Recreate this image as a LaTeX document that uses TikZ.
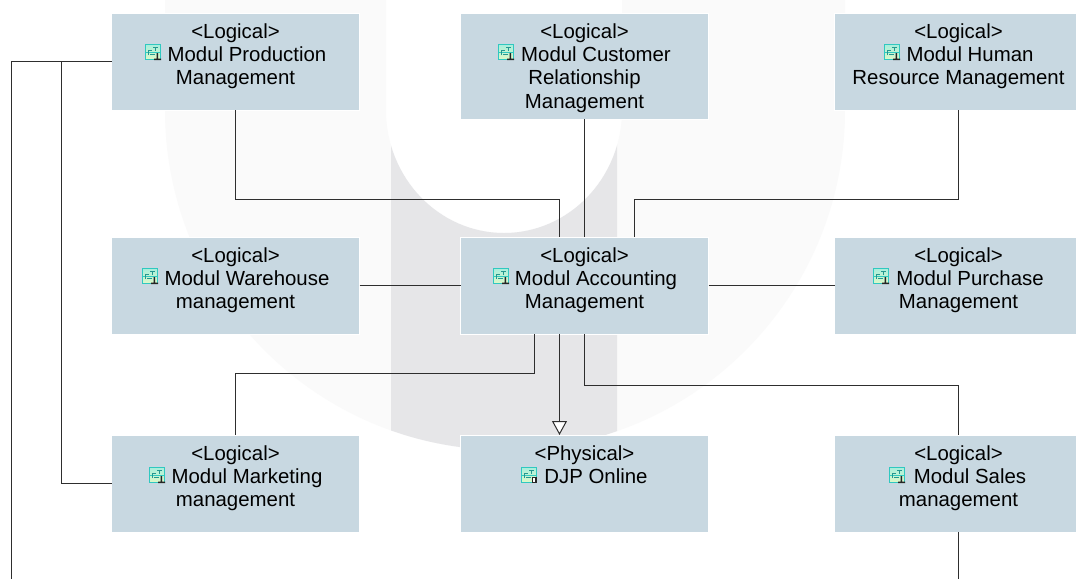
\documentclass[tikz,border=0pt]{standalone}
\usepackage{fontspec}
\setmainfont{Liberation Sans}
\usetikzlibrary{arrows.meta}
\definecolor{boxfill}{HTML}{C8D8E1}
\definecolor{wmlight}{HTML}{FAFAFA}
\definecolor{wmgray}{HTML}{E6E6E8}
\definecolor{wire}{HTML}{2E2E2E}
\definecolor{icoedge}{HTML}{30C8C0}
\definecolor{icotop}{HTML}{A8EEDC}
\definecolor{icolow}{HTML}{DDF9C8}
\newcommand{\boxtxt}[2]{\begin{minipage}[t][#1][t]{186pt}\fontsize{15.3}{17.6}\selectfont\centering\rule{0pt}{18.75pt}#2\end{minipage}}
\newcommand{\icosp}{\hspace*{17.25pt}}
\tikzset{
  modbox/.style={anchor=north west,fill=boxfill,draw=white,line width=0.3pt,inner sep=0pt,outer sep=0pt,text=black},
  wireline/.style={draw=wire,line width=0.75pt},
  icobase/.pic={
    \shade[top color=icotop,bottom color=icolow,draw=icoedge,line width=0.9pt] (0.5,0.5) rectangle (15.5,15.5);
    \draw[icoedge,line width=0.75pt] (0.5,8) -- (15.5,8);
    \draw[icoedge!75!black,line width=0.6pt] (3,11) -- (3,6) -- (7,6) (8,3.5) -- (13,3.5) (10,3.5) -- (10,6.5) (5,10.5) -- (10,10.5);
  },
  icolog/.pic={
    \pic {icobase};
    \fill[black!85] (11.5,9) rectangle (13,15.5) (9,14.5) rectangle (16,16);
  },
  icophy/.pic={
    \pic {icobase};
    \fill[black!85] (10.5,10) rectangle (16,16);
    \fill[white] (12.2,11.3) rectangle (14.4,14.6);
  },
}
\begin{document}
\begin{tikzpicture}[x=0.75pt,y=-0.75pt]
\path[use as bounding box,clip] (0,0) rectangle (1076,579);
\fill[white] (0,0) rectangle (1076,579);
% watermark
\fill[wmlight] (165,0) -- (165,110) arc[start angle=180,end angle=360,x radius=340,y radius=-340] -- (845,0) -- (622,0) -- (622,110)
  arc[start angle=360,end angle=180,x radius=118,y radius=-123] -- (386,0) -- cycle;
\begin{scope}
\clip (391,0) rectangle (617,579);
\fill[wmgray] (165,0) -- (165,110) arc[start angle=180,end angle=360,x radius=340,y radius=-340] -- (845,0) -- (622,0) -- (622,110)
  arc[start angle=360,end angle=180,x radius=118,y radius=-123] -- (386,0) -- cycle;
\end{scope}
% boxes
\node[modbox] (prod) at (111.5,13) {\boxtxt{72.75pt}{<Logical>\\\icosp Modul Production\\Management}};
\node[modbox] (cust) at (460.5,13) {\boxtxt{79.5pt}{<Logical>\\\icosp Modul Customer\\Relationship\\Management}};
\node[modbox] (human) at (834.5,13) {\boxtxt{72.75pt}{<Logical>\\\icosp Modul Human\\Resource Management}};
\node[modbox] (ware) at (111.5,237) {\boxtxt{72.75pt}{<Logical>\\\icosp Modul Warehouse\\management}};
\node[modbox] (acc) at (460.5,237) {\boxtxt{72.75pt}{<Logical>\\\icosp Modul Accounting\\Management}};
\node[modbox] (purch) at (834.5,237) {\boxtxt{72.75pt}{<Logical>\\\icosp Modul Purchase\\Management}};
\node[modbox] (mark) at (111.5,435) {\boxtxt{72.75pt}{<Logical>\\\icosp Modul Marketing\\management}};
\node[modbox] (djp) at (460.5,435) {\boxtxt{72.75pt}{<Physical>\\\icosp DJP Online}};
\node[modbox] (sales) at (834.5,435) {\boxtxt{72.75pt}{<Logical>\\\icosp Modul Sales\\management}};
% icons
\pic at (145,44) {icolog};
\pic at (498,44) {icolog};
\pic at (884,44) {icolog};
\pic at (142,268) {icolog};
\pic at (493,268) {icolog};
\pic at (873,268) {icolog};
\pic at (149,467) {icolog};
\pic at (521,467) {icophy};
\pic at (889,467) {icolog};
% connector helpers
\coordinate (c535) at (534.5,0);
\coordinate (c560) at (559.5,0);
\coordinate (c634) at (634.5,0);
\coordinate (r199) at (0,199.5);
\coordinate (r373) at (0,373.5);
\coordinate (r386) at (0,385.5);
\coordinate (farleft) at (11.5,61.5);
\coordinate (bottomleft) at (11.5,579);
\coordinate (midleft) at (61.5,61.5);
\coordinate (bottomright) at (958.5,579);
% connectors
\draw[wireline] (prod.south) -- (prod.south |- r199) -| (acc.north -| c560);
\draw[wireline] (cust.south) -- (acc.north);
\draw[wireline] (human.south) -- (human.south |- r199) -| (acc.north -| c634);
\draw[wireline] (ware.east) -- (acc.west);
\draw[wireline] (acc.east) -- (purch.west);
\draw[wireline] (acc.south -| c535) -- (c535 |- r373) -| (mark.north);
\draw[wireline] (acc.south) -- (acc.south |- r386) -| (sales.north);
\draw[wireline,-{Triangle[open,fill=white,length=10.5pt,width=11.25pt]}] (acc.south -| c560) -- (djp.north -| c560);
\draw[wireline] (sales.south) -- (bottomright);
\draw[wireline] (prod.west) -- (farleft) -- (bottomleft);
\draw[wireline] (midleft) |- (mark.west);
\end{tikzpicture}
\end{document}
